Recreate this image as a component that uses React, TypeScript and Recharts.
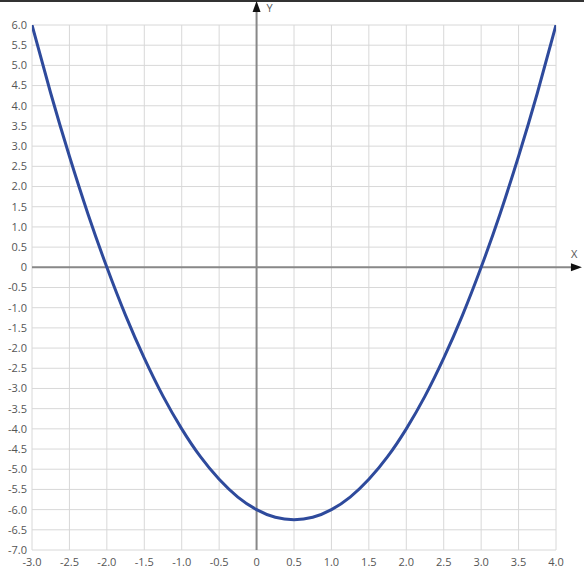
import React from 'react';
import {
  LineChart,
  Line,
  XAxis,
  YAxis,
  CartesianGrid,
  ReferenceLine,
  ReferenceDot,
} from 'recharts';

// points
const xValues = [
  -3, -2.75, -2.5, -2.25, -2, -1.75, -1.5, -1.25, -1, -0.75, -0.5, -0.25, 0, 0.25, 0.5,
  0.75, 1, 1.25, 1.5, 1.75, 2, 2.25, 2.5, 2.75, 3, 3.25, 3.5, 3.75, 4,
];
const yValues = [
  6, 4.31, 2.75, 1.31, 0, -1.19, -2.25, -3.19, -4, -4.69, -5.25, -5.69, -6, -6.19, -6.25,
  -6.19, -6, -5.69, -5.25, -4.69, -4, -3.19, -2.25, -1.19, 0, 1.31, 2.75, 4.31, 6,
];

const xTicks = [-3, -2.5, -2, -1.5, -1, -0.5, 0, 0.5, 1, 1.5, 2, 2.5, 3, 3.5, 4];
const yTicks = [
  -7, -6.5, -6, -5.5, -5, -4.5, -4, -3.5, -3, -2.5, -2, -1.5, -1, -0.5, 0, 0.5, 1, 1.5, 2,
  2.5, 3, 3.5, 4, 4.5, 5, 5.5, 6,
];

const data = xValues.map((x, i) => ({ x, y: yValues[i] }));

const fmt = (v: number) => (v === 0 ? '0' : v.toFixed(1));

const tickStyle = { fontSize: 11, fill: '#555', fontFamily: '"Open Sans", sans-serif' };
const AXIS_COLOR = '#888';

const UpArrow = (props: any) => {
  const { cx, cy } = props;
  return (
    <g>
      <polygon points={`${cx},${cy - 5} ${cx - 4},${cy + 6} ${cx + 4},${cy + 6}`} fill="#111" />
      <text x={cx + 10} y={cy + 6} fontSize={11} fill="#555" fontFamily='"Open Sans", sans-serif'>
        Y
      </text>
    </g>
  );
};

const RightArrow = (props: any) => {
  const { cx, cy } = props;
  return (
    <g>
      <polygon points={`${cx + 5},${cy} ${cx - 6},${cy - 4} ${cx - 6},${cy + 4}`} fill="#111" />
      <text x={cx - 6} y={cy - 9} fontSize={11} fill="#555" fontFamily='"Open Sans", sans-serif'>
        X
      </text>
    </g>
  );
};

export default function App() {
  return (
    <div
      style={{
        position: 'absolute',
        left: 0,
        top: 0,
        width: 584,
        height: 572,
        background: '#fff',
      }}
    >
      <div style={{ position: 'absolute', left: 0, top: 0, width: 584, height: 2, background: '#333' }} />
      <LineChart
        width={584}
        height={572}
        data={data}
        margin={{ top: 25, right: 28, left: 0, bottom: 0 }}
      >
        <CartesianGrid stroke="#d8d8d8" strokeWidth={1} />
        <XAxis
          dataKey="x"
          type="number"
          domain={[-3, 4]}
          ticks={xTicks}
          tickFormatter={fmt}
          axisLine={false}
          tickLine={false}
          tickSize={6}
          tickMargin={2}
          height={22}
          tick={tickStyle}
          interval={0}
          allowDataOverflow
        />
        <YAxis
          type="number"
          domain={[-7, 6]}
          ticks={yTicks}
          tickFormatter={fmt}
          axisLine={false}
          tickLine={false}
          tickSize={3}
          tickMargin={2}
          width={32}
          tick={tickStyle}
          interval={0}
          allowDataOverflow
        />
        <ReferenceLine
          segment={[
            { x: 0, y: -7 },
            { x: 0, y: 6.4 },
          ]}
          stroke={AXIS_COLOR}
          strokeWidth={2}
          ifOverflow="visible"
        />
        <ReferenceLine
          segment={[
            { x: -3, y: 0 },
            { x: 4.3, y: 0 },
          ]}
          stroke={AXIS_COLOR}
          strokeWidth={2}
          ifOverflow="visible"
        />
        <ReferenceDot x={0} y={6.47} ifOverflow="visible" shape={UpArrow} />
        <ReferenceDot x={4.28} y={0} ifOverflow="visible" shape={RightArrow} />
        <Line
          type="natural"
          dataKey="y"
          stroke="#2e4a9c"
          strokeWidth={3}
          dot={false}
          activeDot={false}
          isAnimationActive={false}
        />
      </LineChart>
    </div>
  );
}
